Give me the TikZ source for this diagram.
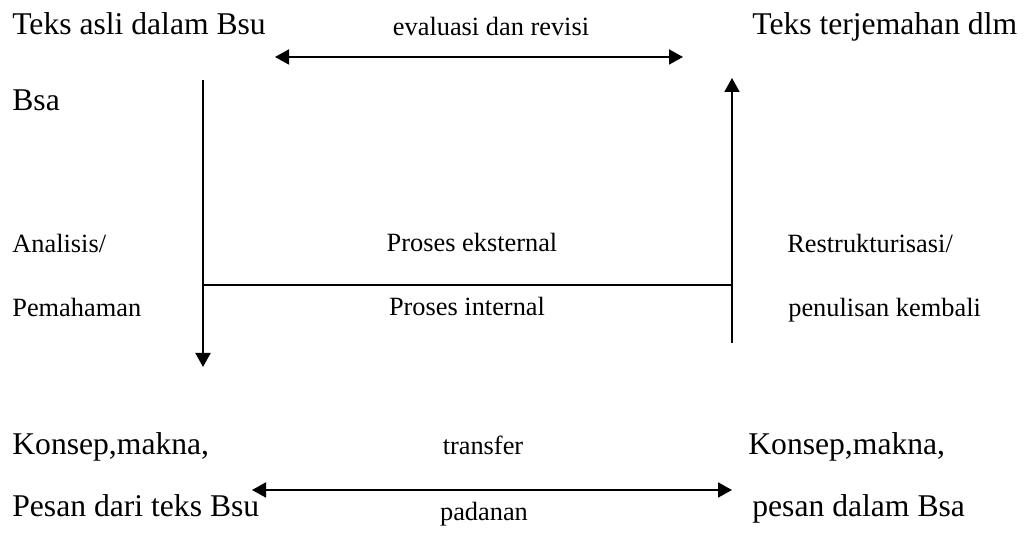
\documentclass[tikz,border=0pt]{standalone}
\usepackage{fontspec}
\setmainfont{Liberation Serif}
\usepackage{tikz}
\usetikzlibrary{calc}
\usetikzlibrary{arrows.meta, positioning}

\begin{document}
\begin{tikzpicture}[-,auto,
                    big text/.style={inner sep=0pt,anchor=base west,font=\fontsize{18}{21}\selectfont},
                    small text/.style={inner sep=0pt,anchor=base west,font=\fontsize{15}{18}\selectfont},
                    mid text/.style={inner sep=0pt,anchor=base,font=\fontsize{15}{18}\selectfont},
                    flow/.style={line width=1.1pt,-{Triangle[length=0.28cm,width=0.3cm]}},
                    both flow/.style={line width=1.1pt,{Triangle[length=0.28cm,width=0.3cm]}-{Triangle[length=0.28cm,width=0.3cm]}}]
\useasboundingbox (0,0) rectangle (20.6,10.72);

% source text (top left)
\node[big text] (SrcTop) at (0.24,10.02) {Teks asli dalam Bsu};
\node[big text] (SrcBot) at (0.24,8.50) {Bsa};

% target text (top right)
\node[big text] (TgtTop) at (15.04,10.02) {Teks terjemahan dlm};

\node[mid text] (Eval) at (9.82,10.0) {evaluasi dan revisi};

% side labels
\node[small text] (Anal) at (0.24,5.66) {Analisis/};
\node[small text] (Pemah) at (0.24,4.38) {Pemahaman};
\node[small text] (Restr) at (15.74,5.66) {Restrukturisasi/};
\node[small text] (Penul) at (15.76,4.38) {penulisan kembali};

\node[mid text] (Ekst) at (9.44,5.68) {Proses eksternal};
\node[mid text] (Int) at (9.34,4.40) {Proses internal};

% concepts (bottom)
\node[big text] (KonL) at (0.24,1.62) {Konsep,makna,};
\node[big text] (PesL) at (0.24,0.38) {Pesan dari teks Bsu};
\node[big text] (KonR) at (14.96,1.62) {Konsep,makna,};
\node[big text] (PesR) at (15.04,0.38) {pesan dalam Bsa};

\node[mid text] (Trans) at (9.66,1.62) {transfer};
\node[mid text] (Padan) at (9.68,0.30) {padanan};

% arrow ends
\coordinate (EvalL) at (5.50,9.58);
\coordinate (EvalR) at (13.66,9.58);
\coordinate (LeftTop) at (4.06,9.12);
\coordinate (LeftBot) at (4.06,3.38);
\coordinate (RightBot) at (14.64,3.86);
\coordinate (RightTop) at (14.64,9.16);
\coordinate (MidL) at (4.06,5.02);
\coordinate (MidR) at (14.64,5.02);
\coordinate (TransL) at (5.04,0.92);
\coordinate (TransR) at (14.64,0.92);

\draw[both flow] (EvalL)--(EvalR);
\draw[flow] (LeftTop)--(LeftBot);
\draw[flow] (RightBot)--(RightTop);
\draw[line width=0.7pt] (MidL)--(MidR);
\draw[both flow] (TransL)--(TransR);

\end{tikzpicture}
\end{document}
